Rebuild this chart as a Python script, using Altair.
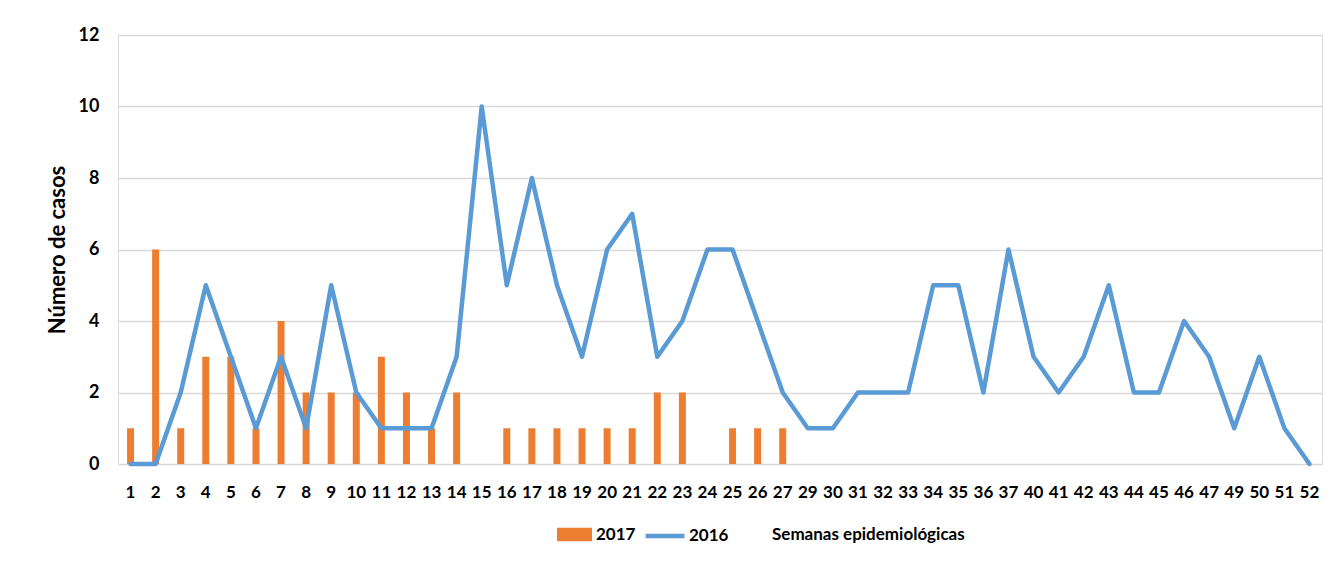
import altair as alt
import pandas as pd

weeks = ["1","2","3","4","5","6","7","8","9","10","11","12","13","14","15","16","17","18","19","20",
         "21","22","23","24","25","26","27","29","30","31","32","33","34","35","36","37","40","41","42","43",
         "44","45","46","47","49","50","51","52"]
cases_2016 = [0,0,2,5,3,1,3,1,5,2,1,1,1,3,10,5,8,5,3,6,
              7,3,4,6,6,4,2,1,1,2,2,2,5,5,2,6,3,2,3,5,
              2,2,4,3,1,3,1,0]
cases_2017 = [1,6,1,3,3,1,4,2,2,2,3,2,1,2,0,1,1,1,1,1,
              1,2,2,0,1,1,1]

df16 = pd.DataFrame({"Semana": weeks, "Casos": cases_2016, "Año": "2016"})
df17 = pd.DataFrame({"Semana": weeks[:len(cases_2017)], "Casos": cases_2017, "Año": "2017"})

FONT = "Lato"
xenc = alt.X("Semana:N", sort=weeks,
             scale=alt.Scale(paddingInner=0, paddingOuter=0),
             axis=alt.Axis(title=None, labelAngle=0, labelFont=FONT, labelFontSize=17,
                           labelFontWeight="bold", labelColor="#000000", labelPadding=20,
                           ticks=False, domain=False, grid=False, labelOverlap=False))
yscale = alt.Scale(domain=[0, 12])
yaxis = alt.Axis(values=[0, 2, 4, 6, 8, 10, 12], title="Número de casos", titleFont=FONT,
                 titleFontSize=22, titleFontWeight="bold", titleColor="#000000", titlePadding=9,
                 labelFont=FONT, labelFontSize=18, labelFontWeight="bold", labelColor="#000000",
                 labelPadding=19, ticks=False, domain=False, gridColor="#d9d9d9", gridWidth=1.5)

bars = alt.Chart(df17).mark_bar(size=7).encode(
    x=xenc,
    y=alt.Y("Casos:Q", scale=yscale, axis=yaxis),
    color=alt.Color("Año:N", scale=alt.Scale(domain=["2017"], range=["#ED7D31"]),
                    legend=alt.Legend(title=None, orient="none", legendX=439, legendY=482,
                                      symbolType="M-1,-0.38H1V0.38H-1Z", symbolSize=1225,
                                      labelFont=FONT, labelFontSize=17, labelFontWeight="bold",
                                      labelColor="#000000", padding=0, labelOffset=4,
                                      symbolStrokeWidth=0)),
)

line = alt.Chart(df16).mark_line(strokeWidth=4.5, strokeJoin="round", strokeCap="round").encode(
    x=xenc,
    y=alt.Y("Casos:Q", scale=yscale, axis=yaxis),
    strokeWidth=alt.value(4.5),
    stroke=alt.Stroke("Año:N", scale=alt.Scale(domain=["2016"], range=["#5B9BD5"]),
                      legend=alt.Legend(title=None, orient="none", legendX=525, legendY=479,
                                        symbolType="stroke", symbolSize=1500, symbolStrokeWidth=4.5,
                                        labelFont=FONT, labelFontSize=17, labelFontWeight="bold",
                                        labelColor="#000000", padding=0, labelOffset=2)),
)

xtitle = alt.Chart(pd.DataFrame({"t": ["Semanas epidemiológicas"]})).mark_text(
    font=FONT, fontSize=17, fontWeight="bold", color="#000000", align="left", baseline="middle"
).encode(text="t:N", x=alt.value(654), y=alt.value(500))

chart = alt.layer(bars, line, xtitle).resolve_scale(color="independent").properties(
    width=1204, height=429,
    autosize=alt.AutoSizeParams(type="none"),
    padding={"left": 110, "top": 27, "right": 4, "bottom": 90},
).configure_view(stroke=None).configure(background="#ffffff")

chart.save("out.html", embed_options={"renderer": "svg", "actions": False})
